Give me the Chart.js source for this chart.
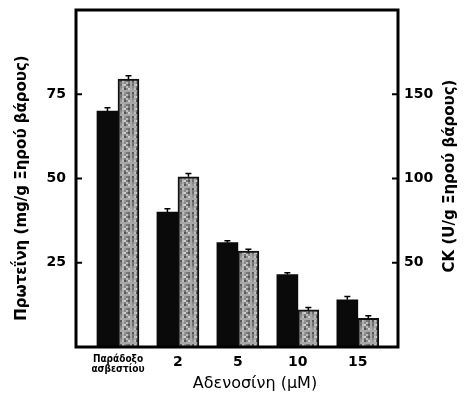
<!DOCTYPE html>
<html>
<head>
<meta charset="utf-8">
<script src="https://cdn.jsdelivr.net/npm/chart.js@4.4.1/dist/chart.umd.min.js"></script>
<style>
  html, body { margin: 0; padding: 0; background: #fff; }
  #wrap { width: 464px; height: 396px; }
</style>
</head>
<body>
<div id="wrap"><canvas id="grafico"></canvas></div>
<script>
// Datos
const categorias = [["Παράδοξο", "ασβεστίου"], "2", "5", "10", "15"];
const proteina = [70, 40, 31, 21.5, 14];      // mg/g ξηρού βάρους (eje izquierdo)
const proteinaErr = [1, 1, 0.5, 0.5, 1];
const ck = [159, 101, 57, 22, 17];            // U/g ξηρού βάρους (eje derecho)
const ckErr = [2, 2, 1, 1.5, 1.5];
const ticksIzq = [25, 50, 75];
const ticksDer = [50, 100, 150];

const tituloIzq = "Πρωτεΐνη (mg/g Ξηρού βάρους)";
const tituloDer = "CK (U/g Ξηρού βάρους)";
const tituloX = "Αδενοσίνη (μM)";

// Textura gris moteada (tabla fija de tonos)
function patronGris() {
    const tonos = ['#6e6e6e', '#a8a8a8', '#cfcfcf', '#8a8a8a', '#555', '#bdbdbd', '#959595', '#777'];
    const c = document.createElement('canvas');
    c.width = 12; c.height = 12;
    const g = c.getContext('2d');
    for (let i = 0; i < 6; i++) {
        for (let j = 0; j < 6; j++) {
            g.fillStyle = tonos[(i * 5 + j * 3 + i * j) % tonos.length];
            g.fillRect(i * 2, j * 2, 2, 2);
        }
    }
    return g.createPattern(c, 'repeat');
}

const fuente = "'DejaVu Sans', sans-serif";

// Quitar el relleno automático de las escalas
const sinRelleno = s => {
    s.paddingTop = 0; s.paddingBottom = 0;
    s.paddingLeft = 0; s.paddingRight = 0;
};

// Marco, marcas, barras de error y títulos
const marco = {
    id: 'marco',
    afterDatasetsDraw(chart) {
        const { ctx, chartArea: a, scales } = chart;
        ctx.save();
        ctx.strokeStyle = '#000';

        // barras de error
        ctx.lineWidth = 1.5;
        chart.data.datasets.forEach((ds, di) => {
            const meta = chart.getDatasetMeta(di);
            const escala = scales[ds.yAxisID];
            meta.data.forEach((bar, i) => {
                const v = ds.data[i].y;
                const top = escala.getPixelForValue(v + ds.errores[i]);
                ctx.beginPath();
                ctx.moveTo(bar.x, bar.y);
                ctx.lineTo(bar.x, top);
                ctx.moveTo(bar.x - 3, top);
                ctx.lineTo(bar.x + 3, top);
                ctx.stroke();
            });
        });

        // marco
        ctx.lineWidth = 3;
        ctx.strokeRect(a.left, a.top, a.right - a.left, a.bottom - a.top);

        // marcas interiores
        ctx.lineWidth = 2;
        ticksIzq.forEach(t => {
            const y = scales.y.getPixelForValue(t);
            ctx.beginPath(); ctx.moveTo(a.left, y); ctx.lineTo(a.left + 6, y); ctx.stroke();
        });
        ticksDer.forEach(t => {
            const y = scales.y2.getPixelForValue(t);
            ctx.beginPath(); ctx.moveTo(a.right, y); ctx.lineTo(a.right - 6, y); ctx.stroke();
        });

        // títulos de ejes
        ctx.fillStyle = '#000';
        ctx.textAlign = 'center';
        ctx.textBaseline = 'middle';
        ctx.font = "bold 15px " + fuente;

        ctx.save();
        ctx.translate(22, 188);
        ctx.rotate(-Math.PI / 2);
        ctx.fillText(tituloIzq, 0, 0);
        ctx.restore();

        ctx.save();
        ctx.translate(450, 176);
        ctx.rotate(-Math.PI / 2);
        ctx.fillText(tituloDer, 0, 0);
        ctx.restore();

        ctx.font = "16px " + fuente;
        ctx.fillText(tituloX, 255, 384);
        ctx.restore();
    }
};

const ctx = document.getElementById('grafico').getContext('2d');

window.grafica = new Chart(ctx, {
    type: 'bar',
    data: {
        datasets: [{
            label: 'Πρωτεΐνη',
            data: proteina.map((v, i) => ({ x: i, y: v })),
            errores: proteinaErr,
            yAxisID: 'y',
            backgroundColor: '#0a0a0a',
            borderColor: '#000',
            borderWidth: 0,
            barThickness: 21
        }, {
            label: 'CK',
            data: ck.map((v, i) => ({ x: i, y: v })),
            errores: ckErr,
            yAxisID: 'y2',
            backgroundColor: patronGris(),
            borderColor: '#111',
            borderWidth: 2,
            barThickness: 21
        }]
    },
    options: {
        responsive: true,
        maintainAspectRatio: false,
        animation: false,
        layout: { padding: { top: 10 } },
        plugins: {
            legend: { display: false },
            tooltip: { enabled: false }
        },
        scales: {
            x: {
                type: 'linear',
                offset: false,
                min: -0.7,
                max: 4.67,
                grid: { display: false, drawTicks: false, offset: false },
                border: { display: false },
                afterBuildTicks: s => { s.ticks = categorias.map((c, i) => ({ value: i })); },
                afterFit: s => { s.height = 49; sinRelleno(s); },
                ticks: {
                    padding: 7,
                    maxRotation: 0,
                    autoSkip: false,
                    color: '#000',
                    callback: v => categorias[v],
                    font: c => c.index === 0
                        ? { family: "'Liberation Sans Narrow', 'DejaVu Sans Condensed', sans-serif", size: 10, weight: 'bold', lineHeight: 1.0 }
                        : { family: fuente, size: 14, weight: 'bold' }
                }
            },
            y: {
                position: 'left',
                min: 0,
                max: 100,
                grid: { display: false, drawTicks: false },
                border: { display: false },
                afterBuildTicks: s => { s.ticks = ticksIzq.map(v => ({ value: v })); },
                afterFit: s => { s.width = 76; sinRelleno(s); },
                ticks: {
                    padding: 10,
                    color: '#000',
                    font: { family: fuente, size: 14, weight: 'bold' }
                }
            },
            y2: {
                position: 'right',
                min: 0,
                max: 200,
                grid: { display: false, drawTicks: false },
                border: { display: false },
                afterBuildTicks: s => { s.ticks = ticksDer.map(v => ({ value: v })); },
                afterFit: s => { s.width = 66; sinRelleno(s); },
                ticks: {
                    padding: 6,
                    color: '#000',
                    font: { family: fuente, size: 14, weight: 'bold' }
                }
            }
        }
    },
    plugins: [marco]
});
</script>
</body>
</html>
